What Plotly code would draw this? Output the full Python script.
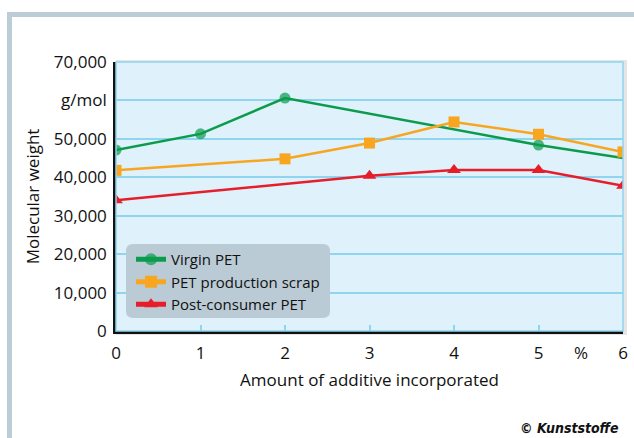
import plotly.graph_objects as go

# ---- data ----
virgin_x = [0, 1, 2, 5, 6]
virgin_y = [47100, 51300, 60600, 48400, 45000]
scrap_x = [0, 2, 3, 4, 5, 6]
scrap_y = [41800, 44800, 48900, 54400, 51200, 46600]
post_x = [0, 3, 4, 5, 6]
post_y = [34000, 40400, 41900, 41900, 37800]
y_tickvals = [0, 10000, 20000, 30000, 40000, 50000, 60000, 70000]
y_ticktext = ["0", "10,000", "20,000", "30,000", "40,000", "50,000", "g/mol", "70,000"]
x_tickvals = [0, 1, 2, 3, 4, 5, 6]
series_names = ["Virgin PET", "PET production scrap", "Post-consumer PET"]

W, H = 634, 438
L, R, T, B = 116, 623, 62, 331
FONT = "Open Sans"
FS = 17

def px(x):
    return (x - L) / (R - L)

def py(y):
    return (B - y) / (B - T)

GREEN = "#0a9b4b"
ORANGE = "#f8a620"
RED = "#e61e2a"
GRID = "#8fd5f0"

fig = go.Figure()
fig.add_trace(go.Scatter(x=virgin_x, y=virgin_y, name=series_names[0], mode="lines+markers",
                         line=dict(color=GREEN, width=2.5),
                         marker=dict(symbol="circle", size=[11, 11, 11, 11, 0], color=GREEN,
                                     line=dict(width=0))))
fig.add_trace(go.Scatter(x=scrap_x, y=scrap_y, name=series_names[1], mode="lines+markers",
                         line=dict(color=ORANGE, width=2.5),
                         marker=dict(symbol="square", size=11, color=ORANGE, line=dict(width=0))))
fig.add_trace(go.Scatter(x=post_x, y=post_y, name=series_names[2], mode="lines+markers",
                         line=dict(color=RED, width=2.5),
                         marker=dict(symbol="triangle-up", size=12, color=RED, line=dict(width=0))))

shapes = [
    # outer frame (top and left bars)
    dict(type="rect", xref="paper", yref="paper", x0=px(7), x1=px(634), y0=py(12), y1=py(17),
         fillcolor="#bccdd7", line=dict(width=0), layer="below"),
    dict(type="rect", xref="paper", yref="paper", x0=px(7), x1=px(12), y0=py(12), y1=py(438),
         fillcolor="#bccdd7", line=dict(width=0), layer="below"),
    # shadow
    dict(type="rect", xref="paper", yref="paper", x0=px(L), x1=px(R + 4), y0=py(B + 4), y1=py(T - 2),
         fillcolor="rgba(0,0,0,0.10)", line=dict(width=0), layer="below"),
    # plot background
    dict(type="rect", xref="paper", yref="paper", x0=0, x1=1, y0=0, y1=1,
         fillcolor="#dff1fb", line=dict(width=0), layer="below"),
    # plot border (top/right light blue)
    dict(type="rect", xref="paper", yref="paper", x0=0, x1=1, y0=0, y1=1,
         fillcolor="rgba(0,0,0,0)", line=dict(color=GRID, width=1.5), layer="above"),
]
lx0, lx1, ly0, ly1, r = 126, 330, 244, 318, 7
path = (f"M {px(lx0 + r)},{py(ly0)} L {px(lx1 - r)},{py(ly0)} "
        f"Q {px(lx1)},{py(ly0)} {px(lx1)},{py(ly0 + r)} L {px(lx1)},{py(ly1 - r)} "
        f"Q {px(lx1)},{py(ly1)} {px(lx1 - r)},{py(ly1)} L {px(lx0 + r)},{py(ly1)} "
        f"Q {px(lx0)},{py(ly1)} {px(lx0)},{py(ly1 - r)} L {px(lx0)},{py(ly0 + r)} "
        f"Q {px(lx0)},{py(ly0)} {px(lx0 + r)},{py(ly0)} Z")
shapes.append(dict(type="path", xref="paper", yref="paper", path=path,
                   fillcolor="#bacbd5", line=dict(width=0), layer="above"))

annotations = [
    dict(x=5.5, y=0, xref="x", yref="y", text="%", showarrow=False, yanchor="top", yshift=-8,
         font=dict(size=FS, color="#111", family=FONT)),
    dict(x=px(621), y=py(428), xref="paper", yref="paper", text="<b><i>© Kunststoffe</i></b>",
         showarrow=False, xanchor="right", yanchor="middle",
         font=dict(size=14, color="#111", family="DejaVu Sans Condensed")),
]

fig.update_layout(
    width=W, height=H,
    margin=dict(l=L, r=W - R, t=T, b=H - B, autoexpand=False),
    paper_bgcolor="white",
    plot_bgcolor="rgba(0,0,0,0)",
    font=dict(family=FONT, size=FS, color="#111"),
    shapes=shapes,
    annotations=annotations,
    showlegend=True,
    legend=dict(x=px(131), y=py(243), xanchor="left", yanchor="top",
                bgcolor="rgba(0,0,0,0)", font=dict(size=15, family=FONT, color="#111"),
                itemsizing="constant", tracegroupgap=0, itemwidth=30),
    xaxis=dict(range=[0, 6], tickvals=x_tickvals, ticks="inside", ticklen=6, tickcolor=GRID,
               tickwidth=1.5, showgrid=False, zeroline=False, showline=True, linecolor="#111",
               linewidth=2.5, tickfont=dict(size=FS), ticklabelstandoff=5, automargin=False,
               title=dict(text="Amount of additive incorporated", font=dict(size=FS), standoff=11)),
    yaxis=dict(range=[0, 70000], tickvals=y_tickvals, ticktext=y_ticktext, ticks="",
               showgrid=True, gridcolor=GRID, gridwidth=1.5, zeroline=False, showline=True,
               linecolor="#111", linewidth=2.5, tickfont=dict(size=FS), ticklabelstandoff=3,
               automargin=False,
               title=dict(text="Molecular weight", font=dict(size=FS), standoff=10)),
)

fig.write_html("out.html", post_script="document.body.style.margin='0';",
               config={"displayModeBar": False})
